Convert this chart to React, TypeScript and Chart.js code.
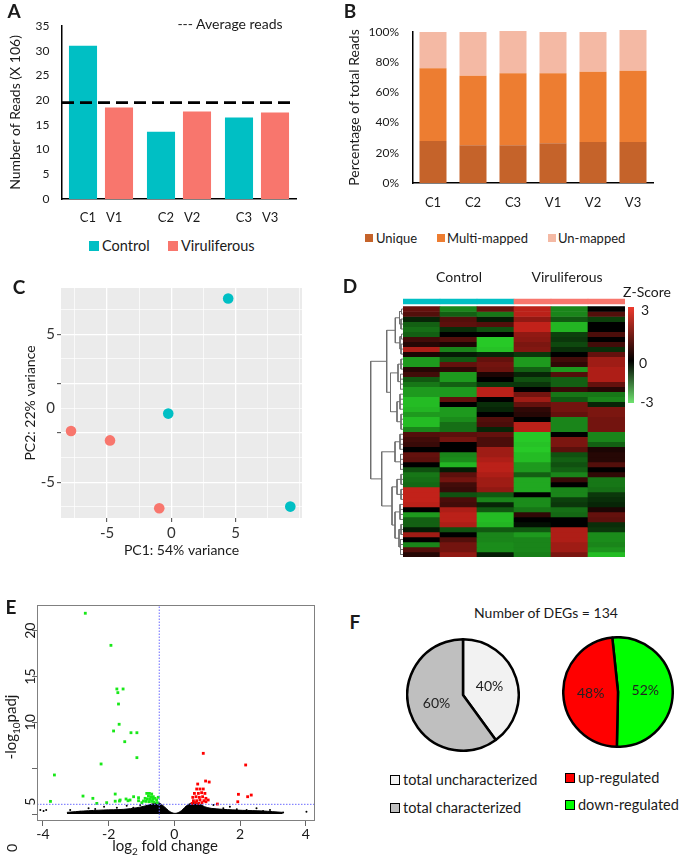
import React, { useEffect, useRef } from 'react';
import { Chart, registerables } from 'chart.js';

Chart.register(...registerables);

const FONT = 'Lato, "Open Sans", "DejaVu Sans", sans-serif';
const TEXT = '#1a1a1a';

/* ---------------- A: sequencing reads ---------------- */
const readGroups = ['C1   V1', 'C2   V2', 'C3   V3'];
const controlReads = [31.0, 13.6, 16.5];
const viruliferousReads = [18.5, 17.7, 17.5];
const averageReads = 19.5;
const readAxisMax = 35;
const readAxisStep = 5;

/* ---------------- B: mapping percentages ---------------- */
const mappingSamples = ['C1', 'C2', 'C3', 'V1', 'V2', 'V3'];
const uniquePct = [27.8, 25.0, 25.0, 26.3, 27.2, 27.2];
const multiMappedPct = [48.2, 46.0, 47.6, 46.3, 46.5, 47.2];
const unmappedPct = [24.0, 29.0, 28.0, 27.4, 26.3, 27.0];

/* ---------------- C: PCA ---------------- */
const pc1Control = [4.42, -0.24, 9.25];
const pc2Control = [7.41, -0.36, -6.64];
const pc1Viruliferous = [-7.8, -4.77, -0.94];
const pc2Viruliferous = [-1.54, -2.17, -6.75];

/* ---------------- D: heatmap ---------------- */
const heatSamples = ['C1', 'C2', 'C3', 'V1', 'V2', 'V3'];
const heatGroups = ['Control', 'Control', 'Control', 'Viruliferous', 'Viruliferous', 'Viruliferous'];
const heatZ = [
  [1.0, -1.5, 1.0, 2.2, -1.5, 0],
  [0.8, -1.0, -1.3, 2.2, -1.5, 0.8],
  [-0.3, 0.8, -0.2, 1.6, -0.9, -0.6],
  [-1.0, 0.9, 0.8, 2.3, -2.2, 0],
  [-1.2, -0.4, -0.8, 2.3, -2.2, 0],
  [-1.0, 0, 0, 1.6, -0.6, 0.7],
  [0.6, 0.8, -2.5, 1.5, -0.5, 0],
  [0.3, 0.2, -2.5, 1.3, -0.7, 0.6],
  [2.0, -1.5, -2.4, 1.4, -0.4, -0.4],
  [0.2, -0.2, -0.3, -0.5, 0, 1.0],
  [-1.8, -0.9, 1.0, -1.8, 0.6, 1.8],
  [-1.8, 1.0, 1.2, -1.8, 0.4, 1.8],
  [0.3, 0.4, 1.1, -1.0, -1.8, 2.0],
  [0.6, -1.8, 0.2, -0.3, 0.8, 2.0],
  [-0.9, -1.8, 0, -0.8, -1.0, 2.0],
  [-1.3, -1.0, -0.5, -0.5, -1.0, 1.0],
  [-1.8, -1.8, 2.2, 0, 0.5, 0.3],
  [-1.8, -1.8, 2.2, 1.2, -1.3, -1.3],
  [-2.3, 1.0, 0, 1.8, -0.9, -1.5],
  [-2.3, 0, -0.4, 1.0, 1.2, -0.3],
  [-2.2, -1.8, -0.3, 0.4, 1.2, 1.3],
  [-1.8, -1.8, 0, 0.3, 1.0, 1.3],
  [-2.3, -1.6, 0.8, 0, -1.5, 1.2],
  [-2.3, -1.2, 0.7, 2.2, -1.5, 1.2],
  [-1.5, -1.2, -0.3, 2.2, -1.5, 1.2],
  [0.8, 0.9, 1.0, -2.5, 0, -1.5],
  [0.6, 1.2, 0.7, -2.5, 1.3, -1.5],
  [0.5, 0, 0.7, -2.4, 1.3, -1.0],
  [0, 0, 1.8, -2.5, 0.9, 0.2],
  [1.0, -1.5, 1.8, -2.3, -0.8, 0.3],
  [0.9, -1.6, 2.0, -2.3, -1.0, 0.3],
  [0, -2.2, 2.2, -1.8, -0.8, 0.8],
  [-0.8, -0.2, 2.2, -1.8, -1.0, 0],
  [-1.3, 0.9, 2.0, -1.0, -1.5, 0.4],
  [-1.2, 1.2, 1.8, -2.0, 0.5, -1.3],
  [-1.1, 0.6, 1.8, -2.0, 0, -1.3],
  [2.3, 0.5, 1.6, -2.0, -1.5, -1.2],
  [2.3, -0.8, -0.9, 0, -1.5, -0.5],
  [2.3, 0.7, -1.5, -1.6, -0.6, -0.4],
  [2.2, 0.6, -0.3, -1.6, -0.5, -0.3],
  [0, 2.0, -0.9, -1.3, -1.2, 0.2],
  [-1.8, 2.2, -2.3, 0.4, -1.1, 1.0],
  [-1.0, 2.2, -2.3, 0, 0, 0.9],
  [-1.0, 2.0, -2.2, -0.1, 0, -0.4],
  [-0.2, -0.8, -0.9, -0.9, 2.0, -0.5],
  [1.8, 0, -1.5, -1.8, 2.0, -1.6],
  [0, 0.8, -1.5, -1.5, 2.0, -1.6],
  [-1.5, 1.2, -1.6, -1.5, 1.8, -1.5],
  [0.8, 1.2, -1.6, -1.5, 1.8, -1.7],
  [0.3, 1.6, -0.2, -1.4, 1.3, -2.3],
];
// row clustering: leaves are row indices, h = merge height
const rowTree: any = { h: 32.3, c: [
  { h: 16.3, c: [
    { h: 7.7, c: [
      { h: 3.5, c: [{ h: 1.5, c: [0, 1] }, { h: 2, c: [2, 3, 4] }] },
      { h: 3, c: [{ h: 1.5, c: [5, 6] }, { h: 2, c: [7, 8, 9] }] },
    ] },
    { h: 12.5, c: [
      { h: 5, c: [{ h: 2, c: [10, 11, 12] }, { h: 2.5, c: [13, 14, 15, 16] }] },
      { h: 6, c: [{ h: 3, c: [17, 18, 19, 20] }, { h: 2, c: [21, 22, 23, 24] }] },
    ] },
  ] },
  { h: 21.3, c: [
    { h: 8, c: [{ h: 3, c: [25, 26, 27, 28] }, { h: 2.5, c: [29, 30, 31, 32] }] },
    { h: 11, c: [
      { h: 6, c: [{ h: 2, c: [33, 34, 35] }, { h: 2, c: [36, 37, 38] }] },
      { h: 8, c: [
        { h: 3, c: [39, 40, 41, 42] },
        { h: 4, c: [{ h: 2, c: [43, 44, 45] }, { h: 2.5, c: [46, 47, 48, 49] }] },
      ] },
    ] },
  ] },
] };

/* ---------------- E: volcano ---------------- */
const volcanoXMin = -4.18;
const volcanoXMax = 4.28;
const volcanoYMin = -0.76;
const volcanoYMax = 22.8;
const fcCut = -0.46;
const padjCut = 1.06;
const downX = [-2.71, -1.93, -1.75, -1.56, -1.72, -1.70, -1.68, -1.85, -1.32, -1.14, -1.51, -1.14, -2.23, -3.65, -2.78, -2.48, -3.77, -2.36, -2.06, -1.80, -1.80, -1.67, -1.47, -1.41, -1.24, -1.09,
  -0.84, -0.76, -0.69, -0.79, -0.72, -0.64, -0.89, -0.82, -0.74, -0.66, -0.59, -0.94, -0.86, -0.77, -0.69, -0.62, -0.54, -0.49, -0.52, -0.99, -1.65, -1.35, -1.09];
const downY = [21.9, 18.4, 13.64, 13.64, 13.24, 12.0, 9.79, 9.06, 8.87, 8.87, 7.89, 6.15, 5.46, 4.26, 1.96, 1.71, 1.38, 1.16, 1.24, 2.18, 1.40, 1.42, 1.64, 1.45, 1.89, 1.45,
  2.25, 2.25, 2.18, 1.96, 1.89, 1.89, 1.71, 1.64, 1.60, 1.60, 1.71, 1.42, 1.38, 1.35, 1.38, 1.31, 1.53, 1.82, 1.24, 1.24, 1.53, 1.53, 1.78];
const upX = [0.88, 2.17, 0.71, 0.95, 1.06, 1.95, 2.23, 2.34, 1.93, 1.31,
  0.68, 0.78, 0.88, 0.61, 0.73, 0.83, 0.93, 0.56, 0.66, 0.76, 0.86, 0.96, 0.58, 0.68, 0.78, 0.90, 0.54, 0.64, 0.74, 0.84, 0.96, 1.03];
const upY = [6.62, 5.35, 3.27, 3.60, 3.49, 2.15, 1.89, 2.07, 1.34, 1.09,
  2.73, 2.73, 2.73, 2.25, 2.25, 2.33, 2.25, 1.82, 1.89, 1.82, 1.89, 1.71, 1.45, 1.45, 1.53, 1.45, 1.16, 1.24, 1.16, 1.24, 1.34, 1.53];
const nsX = [-4.08, -3.98, -3.9, 4.02, 3.31, 2.7, -3.17, -2.87, -2.61, -2.14, -2.41, -1.75, -1.45, -1.25, -1.04, 1.19, 1.49, 1.9, 2.2, 1.69, 2.5, 2.91];
const nsY = [0.44, 0.33, 0.44, 0.25, 0.18, 0.33, 0.44, 0.25, 0.62, 0.8, 0.55, 0.69, 0.91, 0.69, 0.98, 0.98, 0.62, 0.51, 0.44, 0.8, 0.62, 0.44];
const bandX = [-3.27, -2.76, -2.15, -1.54, -1.14, -0.89, -0.69, -0.49, -0.38, -0.23, -0.13, 0.02, 0.17, 0.27, 0.37, 0.47, 0.62, 0.77, 0.92, 1.12, 1.47, 2.08, 2.69, 3.3];
const bandTop = [0.18, 0.33, 0.44, 0.51, 0.69, 0.88, 1.09, 1.24, 1.02, 0.55, 0.25, 0.07, 0.25, 0.55, 0.91, 1.13, 1.24, 1.09, 0.80, 0.62, 0.51, 0.40, 0.33, 0.18];
const volcanoYTickText = ['20', '15', '10', '5'];
const volcanoYTickAt = [20, 15, 10, 1.35];

/* ---------------- F: pies ---------------- */
const annotationLabels = ['total uncharacterized', 'total characterized'];
const annotationPct = [40, 60];
const regulationLabels = ['down-regulated', 'up-regulated'];
const regulationPct = [52, 48];
const totalDEGs = 134;

/* ---------------- helpers ---------------- */
const zip = (xs: number[], ys: number[]) => xs.map((x, i) => ({ x, y: ys[i] }));

function zColor(z: number) {
  const t = Math.pow(Math.min(Math.abs(z) / 3, 1), 0.8);
  if (z >= 0) return `rgb(${Math.round(240 * t)},${Math.round(42 * t)},${Math.round(32 * t)})`;
  return `rgb(${Math.round(45 * t)},${Math.round(232 * t)},${Math.round(45 * t)})`;
}

function dendrogramPoints(tree: any) {
  const pts: any[] = [];
  const seg = (a: any, b: any) => { pts.push(a, b, { x: NaN, y: NaN }); };
  const walk = (node: any): { y: number; h: number } => {
    if (typeof node === 'number') return { y: node + 0.5, h: 0 };
    const kids = node.c.map(walk);
    const first = kids[0];
    const last = kids[kids.length - 1];
    seg({ x: node.h, y: first.y }, { x: node.h, y: last.y });
    kids.forEach((k: any) => seg({ x: k.h, y: k.y }, { x: node.h, y: k.y }));
    return { y: (first.y + last.y) / 2, h: node.h };
  };
  walk(tree);
  return pts;
}

const baseOptions = () => ({
  responsive: false,
  animation: false,
  devicePixelRatio: 1,
  plugins: { legend: { display: false }, tooltip: { enabled: false } },
});

const averageLine = {
  id: 'averageLine',
  afterDatasetsDraw(chart: any) {
    const { ctx, chartArea: a } = chart;
    const py = chart.scales.y.getPixelForValue(averageReads);
    ctx.save();
    ctx.strokeStyle = '#000';
    ctx.lineWidth = 2.6;
    ctx.setLineDash([12, 6]);
    ctx.beginPath();
    ctx.moveTo(a.left, py);
    ctx.lineTo(a.right, py);
    ctx.stroke();
    ctx.restore();
  },
};

const greyPanel = {
  id: 'greyPanel',
  beforeDraw(chart: any) {
    const { ctx, chartArea: a } = chart;
    ctx.save();
    ctx.fillStyle = '#EBEBEB';
    ctx.fillRect(a.left, a.top, a.width, a.height);
    ctx.restore();
  },
};

const boxFrame = {
  id: 'boxFrame',
  afterDraw(chart: any) {
    const { ctx, chartArea: a } = chart;
    ctx.save();
    ctx.strokeStyle = '#808080';
    ctx.lineWidth = 1;
    ctx.strokeRect(a.left + 0.5, a.top + 0.5, a.width - 1, a.height - 1);
    ctx.restore();
  },
};

const volcanoAxisLabels = {
  id: 'volcanoAxisLabels',
  afterDraw(chart: any) {
    const { ctx } = chart;
    const y = chart.scales.y;
    ctx.save();
    ctx.font = `14px ${FONT}`;
    ctx.fillStyle = TEXT;
    ctx.textAlign = 'center';
    ctx.textBaseline = 'middle';
    volcanoYTickText.forEach((t, i) => {
      ctx.save();
      ctx.translate(y.right - 7, y.getPixelForValue(volcanoYTickAt[i]));
      ctx.rotate(-Math.PI / 2);
      ctx.fillText(t, 0, 0);
      ctx.restore();
    });
    ctx.restore();
  },
};

const pieLabels = {
  id: 'pieLabels',
  afterDatasetsDraw(chart: any) {
    const { ctx } = chart;
    const meta = chart.getDatasetMeta(0);
    const values = chart.data.datasets[0].data;
    ctx.save();
    ctx.font = `14px ${FONT}`;
    ctx.fillStyle = '#222';
    ctx.textAlign = 'center';
    ctx.textBaseline = 'middle';
    meta.data.forEach((arc: any, i: number) => {
      const p = arc.getCenterPoint();
      ctx.fillText(`${values[i]}%`, p.x, p.y);
    });
    ctx.restore();
  },
};

/* ---------------- chart builders ---------------- */
function buildReads(): any {
  const bar = { categoryPercentage: 0.923, barPercentage: 0.78, borderWidth: 0 };
  return {
    type: 'bar',
    data: {
      labels: readGroups,
      datasets: [
        { label: 'Control', data: controlReads, backgroundColor: '#00BFC4', ...bar },
        { label: 'Viruliferous', data: viruliferousReads, backgroundColor: '#F8766D', ...bar },
      ],
    },
    options: {
      ...baseOptions(),
      layout: { padding: { top: 26, right: 14, left: 0, bottom: 0 } },
      scales: {
        x: {
          grid: { display: false, drawTicks: false },
          border: { display: true, color: '#000', width: 1.5 },
          ticks: { font: { family: FONT, size: 13 }, color: TEXT, padding: 11, autoSkip: false, maxRotation: 0 },
          afterFit: (s: any) => { s.height = 33; },
        },
        y: {
          min: 0, max: readAxisMax,
          grid: { display: false, drawTicks: false },
          border: { display: true, color: '#000', width: 1.5 },
          ticks: { stepSize: readAxisStep, font: { family: FONT, size: 12 }, color: TEXT, padding: 12.5 },
          title: { display: true, text: 'Number of Reads (X 106)', font: { family: FONT, size: 14 }, color: TEXT, padding: { top: 7, bottom: 0 } },
          afterFit: (s: any) => { s.width = 62; },
        },
      },
    },
    plugins: [averageLine],
  };
}

function buildMapping(): any {
  const common = { categoryPercentage: 1, barPercentage: 0.675, borderWidth: 0, clip: false };
  return {
    type: 'bar',
    data: {
      labels: mappingSamples,
      datasets: [
        { label: 'Unique', data: uniquePct, backgroundColor: '#C5632A', ...common },
        { label: 'Multi-mapped', data: multiMappedPct, backgroundColor: '#ED7D31', ...common },
        { label: 'Un-mapped', data: unmappedPct, backgroundColor: '#F4B9A4', ...common },
      ],
    },
    options: {
      ...baseOptions(),
      layout: { padding: { top: 32, right: 32, left: 0, bottom: 0 } },
      scales: {
        x: {
          stacked: true,
          grid: { display: false, drawTicks: false },
          border: { display: true, color: '#000', width: 1.5 },
          ticks: { font: { family: FONT, size: 13 }, color: TEXT, padding: 12, autoSkip: false, maxRotation: 0 },
          afterFit: (s: any) => { s.height = 43; },
        },
        y: {
          stacked: true, min: 0, max: 100,
          grid: { display: false, drawTicks: false },
          border: { display: true, color: '#000', width: 1.5 },
          ticks: { stepSize: 20, font: { family: FONT, size: 12 }, color: TEXT, padding: 14, callback: (v: any) => `${v}%` },
          title: { display: true, text: 'Percentage of total Reads', font: { family: FONT, size: 14 }, color: TEXT, padding: { top: 6, bottom: 0 } },
          afterFit: (s: any) => { s.width = 73; },
        },
      },
    },
  };
}

function buildPca(): any {
  const near = (v: number, step: number) => Math.abs(v - Math.round(v / step) * step) < 0.01;
  const xMajor = (v: number) => near(v, 5) && Math.abs(v) < 9;
  const yOdd = (v: number) => Math.abs(Math.round(v / (5 / 3))) % 2 === 1;
  return {
    type: 'scatter',
    data: {
      datasets: [
        { label: 'Control', data: zip(pc1Control, pc2Control), backgroundColor: '#00BFC4', pointRadius: 5.3, borderWidth: 0 },
        { label: 'Viruliferous', data: zip(pc1Viruliferous, pc2Viruliferous), backgroundColor: '#F8766D', pointRadius: 5.3, borderWidth: 0 },
      ],
    },
    options: {
      ...baseOptions(),
      layout: { padding: { top: 18, right: 28, left: 0, bottom: 0 } },
      scales: {
        x: {
          type: 'linear', min: -8.58, max: 10.16,
          border: { display: false },
          grid: {
            color: '#FFFFFF',
            lineWidth: (c: any) => (c.tick && xMajor(c.tick.value) ? 1.3 : 0.7),
            drawTicks: true, tickLength: 4, tickWidth: 1,
            tickColor: (c: any) => (c.tick && xMajor(c.tick.value) ? '#444' : 'rgba(0,0,0,0)'),
          },
          ticks: {
            stepSize: 2.5, includeBounds: false, autoSkip: false, maxRotation: 0,
            font: { family: FONT, size: 15 }, color: '#333', padding: 2,
            callback: (v: any) => (xMajor(v) ? String(Math.round(v)) : ''),
          },
          title: { display: true, text: 'PC1: 54% variance', font: { family: FONT, size: 14 }, color: TEXT, padding: { top: 0, bottom: 3.6 } },
          afterFit: (s: any) => { s.height = 44; },
        },
        y: {
          type: 'linear', min: -7.41, max: 8.12,
          border: { display: false },
          grid: {
            color: '#FFFFFF',
            lineWidth: (c: any) => (c.tick && yOdd(c.tick.value) ? 1.3 : 0.7),
            drawTicks: true, tickLength: 4, tickWidth: 1,
            tickColor: (c: any) => (c.tick && yOdd(c.tick.value) ? '#444' : 'rgba(0,0,0,0)'),
          },
          ticks: {
            stepSize: 5 / 3, includeBounds: false, autoSkip: false,
            font: { family: FONT, size: 15 }, color: '#333', padding: 2,
            callback: (v: any) => (near(v, 5) ? String(Math.round(v / 5) * 5) : ''),
          },
          title: { display: true, text: 'PC2: 22% variance', font: { family: FONT, size: 14 }, color: TEXT, padding: { top: 21.6, bottom: 0 } },
          afterFit: (s: any) => { s.width = 61; },
        },
      },
    },
    plugins: [greyPanel],
  };
}

const heatYMin = -1.7;
const heatYMax = 50;

function buildHeatmap(): any {
  const groupColor: any = { Control: '#00BFC4', Viruliferous: '#F8766D' };
  const cell = { categoryPercentage: 1, barPercentage: 1, grouped: false, borderWidth: 0 };
  return {
    type: 'bar',
    data: {
      labels: heatSamples,
      datasets: [
        { label: 'group', data: heatSamples.map(() => [-1.5, -0.5]), backgroundColor: heatGroups.map((g) => groupColor[g]), ...cell },
        ...heatZ.map((row, r) => ({ label: `gene ${r + 1}`, data: row.map(() => [r, r + 1]), backgroundColor: row.map(zColor), ...cell })),
      ],
    },
    options: {
      ...baseOptions(),
      layout: { padding: 0 },
      scales: {
        x: { display: false },
        y: { display: false, min: heatYMin, max: heatYMax, reverse: true },
      },
    },
  };
}

function buildDendrogram(): any {
  return {
    type: 'scatter',
    data: {
      datasets: [
        { label: 'rows', data: dendrogramPoints(rowTree), showLine: true, spanGaps: false, borderColor: '#6e6e6e', borderWidth: 1, pointRadius: 0 },
      ],
    },
    options: {
      ...baseOptions(),
      layout: { padding: 0 },
      scales: {
        x: { type: 'linear', display: false, min: 0, max: 41, reverse: true },
        y: { type: 'linear', display: false, min: heatYMin, max: heatYMax, reverse: true },
      },
    },
  };
}

function buildVolcano(): any {
  return {
    type: 'scatter',
    data: {
      datasets: [
        { label: 'padj cut', data: [{ x: volcanoXMin, y: padjCut }, { x: volcanoXMax, y: padjCut }], showLine: true,
          borderColor: '#6b6bff', borderWidth: 1, borderDash: [1.5, 1.5], pointRadius: 0, order: 0 },
        { label: 'fc cut', data: [{ x: fcCut, y: volcanoYMin }, { x: fcCut, y: volcanoYMax }], showLine: true,
          borderColor: '#6b6bff', borderWidth: 1, borderDash: [1.5, 1.5], pointRadius: 0, order: 0 },
        { label: 'up', data: zip(upX, upY), pointStyle: 'rect', pointRadius: 2, backgroundColor: '#FF0000', borderWidth: 0, order: 1 },
        { label: 'down', data: zip(downX, downY), pointStyle: 'rect', pointRadius: 2, backgroundColor: '#18E818', borderWidth: 0, order: 1 },
        { label: 'ns', data: zip(nsX, nsY), pointRadius: 1, backgroundColor: '#000', borderWidth: 0, order: 2 },
        { label: 'ns dense', data: zip(bandX, bandTop), showLine: true, fill: { value: 0 }, tension: 0.3,
          backgroundColor: '#000', borderColor: '#000', borderWidth: 1, pointRadius: 0, order: 3 },
      ],
    },
    options: {
      ...baseOptions(),
      layout: { padding: { top: 9, right: 15, left: 0, bottom: 0 } },
      scales: {
        x: {
          type: 'linear', min: volcanoXMin, max: volcanoXMax,
          border: { display: false },
          grid: { drawOnChartArea: false, drawTicks: true, tickLength: 5, color: '#666' },
          ticks: { stepSize: 2, includeBounds: false, autoSkip: false, maxRotation: 0, font: { family: FONT, size: 14 }, color: TEXT, padding: 0 },
          afterFit: (s: any) => { s.height = 30; },
        },
        y: {
          type: 'linear', min: volcanoYMin, max: volcanoYMax,
          border: { display: false },
          grid: { drawOnChartArea: false, drawTicks: true, tickLength: 5, color: '#666' },
          ticks: { display: false, stepSize: 5, includeBounds: false },
          afterFit: (s: any) => { s.width = 37; },
        },
      },
    },
    plugins: [boxFrame, volcanoAxisLabels],
  };
}

function buildAnnotationPie(): any {
  return {
    type: 'pie',
    data: { labels: annotationLabels, datasets: [{ data: annotationPct, backgroundColor: ['#F2F2F2', '#BFBFBF'], borderColor: '#000', borderWidth: 2.5 }] },
    options: { ...baseOptions() },
    plugins: [pieLabels],
  };
}

function buildRegulationPie(): any {
  return {
    type: 'pie',
    data: { labels: regulationLabels, datasets: [{ data: regulationPct, backgroundColor: ['#00FF00', '#FF0000'], borderColor: '#000', borderWidth: 2.5 }] },
    options: { ...baseOptions(), rotation: -6 },
    plugins: [pieLabels],
  };
}

/* ---------------- components ---------------- */
function ChartCanvas({ left, top, width, height, build }: { left: number; top: number; width: number; height: number; build: () => any }) {
  const ref = useRef<HTMLCanvasElement | null>(null);
  useEffect(() => {
    if (!ref.current) return;
    const chart = new Chart(ref.current, build());
    return () => chart.destroy();
  }, []);
  return <canvas ref={ref} width={width} height={height} style={{ position: 'absolute', left, top, width, height }} />;
}

function Txt({ x, y, children, size = 14, weight = 400, rotate = 0, anchor = 'center', color = TEXT, family = FONT }: any) {
  const tx = anchor === 'start' ? '0%' : anchor === 'end' ? '-100%' : '-50%';
  return (
    <div style={{ position: 'absolute', left: x, top: y, transform: `translate(${tx}, -50%) rotate(${rotate}deg)`, fontFamily: family,
      fontSize: size, fontWeight: weight, color, whiteSpace: 'pre', lineHeight: 1 }}>{children}</div>
  );
}

function Swatch({ x, y, size, color, border }: any) {
  return <div style={{ position: 'absolute', left: x, top: y, width: size, height: size, background: color, border: border || 'none', boxSizing: 'border-box' }} />;
}

export default function App() {
  return (
    <div style={{ position: 'absolute', left: 0, top: 0, width: 685, height: 861, background: '#fff', overflow: 'hidden', fontFamily: FONT }}>
      {/* A */}
      <ChartCanvas left={0} top={0} width={310} height={232} build={buildReads} />
      <Txt x={14} y={10} size={19} weight={700}>A</Txt>
      <Txt x={230} y={24} size={14}>--- Average reads</Txt>
      <Swatch x={89} y={241} size={10} color="#00BFC4" />
      <Txt x={102} y={246} size={14.5} anchor="start">Control</Txt>
      <Swatch x={168} y={241} size={10} color="#F8766D" />
      <Txt x={181} y={246} size={14.5} anchor="start">Viruliferous</Txt>

      {/* B */}
      <ChartCanvas left={340} top={0} width={345} height={226} build={buildMapping} />
      <Txt x={350} y={10} size={19} weight={700}>B</Txt>
      <Swatch x={365} y={234} size={8} color="#C5632A" />
      <Txt x={376} y={238} size={13} anchor="start">Unique</Txt>
      <Swatch x={437} y={234} size={8} color="#ED7D31" />
      <Txt x={447} y={238} size={13} anchor="start">Multi-mapped</Txt>
      <Swatch x={548} y={234} size={8} color="#F4B9A4" />
      <Txt x={558} y={238} size={13} anchor="start">Un-mapped</Txt>

      {/* C */}
      <ChartCanvas left={0} top={270} width={330} height={292} build={buildPca} />
      <Txt x={19} y={286} size={19} weight={700}>C</Txt>

      {/* D */}
      <ChartCanvas left={362} top={298} width={41} height={259} build={buildDendrogram} />
      <ChartCanvas left={403} top={298} width={222} height={259} build={buildHeatmap} />
      <Txt x={350} y={285} size={19} weight={700}>D</Txt>
      <Txt x={459} y={277} size={14}>Control</Txt>
      <Txt x={567} y={277} size={14}>Viruliferous</Txt>
      <Txt x={647} y={292} size={14}>Z-Score</Txt>
      <div style={{ position: 'absolute', left: 628, top: 307, width: 5.5, height: 96,
        background: 'linear-gradient(to bottom, #ef3b2e 0%, #000 56%, #6fe36f 100%)' }} />
      <Txt x={645} y={310} size={14}>3</Txt>
      <Txt x={643} y={363} size={14}>0</Txt>
      <Txt x={647} y={402} size={14}>-3</Txt>

      {/* E */}
      <ChartCanvas left={0} top={596} width={330} height={255} build={buildVolcano} />
      <Txt x={11} y={606} size={19} weight={700}>E</Txt>
      <Txt x={12} y={727} size={15} rotate={-90}>-log<sub style={{ fontSize: 10 }}>10</sub>padj</Txt>
      <Txt x={165} y={847} size={15}>log<sub style={{ fontSize: 10 }}>2</sub> fold change</Txt>
      <Txt x={12} y={848} size={14} rotate={-90}>0</Txt>

      {/* F */}
      <ChartCanvas left={406} top={638} width={114} height={114} build={buildAnnotationPie} />
      <ChartCanvas left={562} top={636} width={112} height={112} build={buildRegulationPie} />
      <Txt x={355} y={621} size={19} weight={700}>F</Txt>
      <Txt x={546} y={613} size={14}>{`Number of DEGs = ${totalDEGs}`}</Txt>
      <Swatch x={390} y={775} size={10} color="#F2F2F2" border="1.6px solid #000" />
      <Txt x={403} y={780} size={14.5} anchor="start">{annotationLabels[0]}</Txt>
      <Swatch x={390} y={803} size={10} color="#BFBFBF" border="1.6px solid #000" />
      <Txt x={403} y={808} size={14.5} anchor="start">{annotationLabels[1]}</Txt>
      <Swatch x={565} y={773} size={10} color="#FF0000" border="1.6px solid #000" />
      <Txt x={578} y={778} size={14.5} anchor="start">{regulationLabels[1]}</Txt>
      <Swatch x={565} y={800} size={10} color="#00FF00" border="1.6px solid #000" />
      <Txt x={578} y={805} size={14.5} anchor="start">{regulationLabels[0]}</Txt>
    </div>
  );
}
